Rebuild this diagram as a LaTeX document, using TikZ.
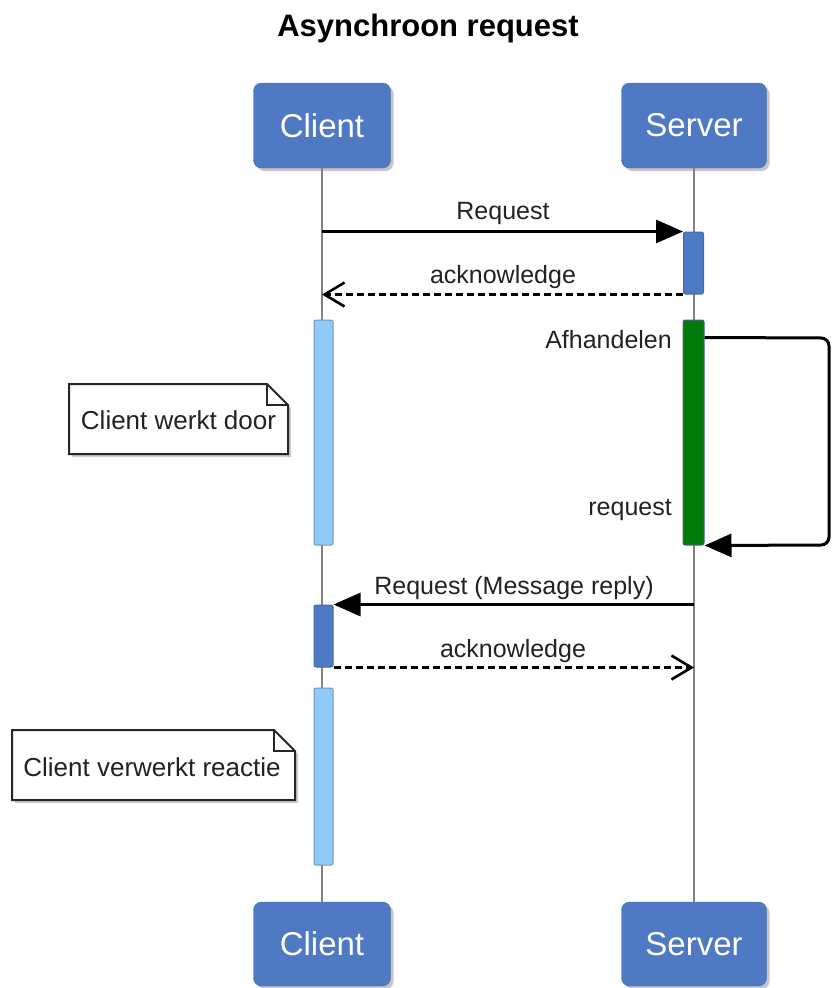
\documentclass[tikz,border=0pt]{standalone}
\usepackage{fontspec}
\setmainfont{Liberation Sans}
\usetikzlibrary{arrows.meta,shadows,calc}
\definecolor{partblue}{RGB}{80,121,196}
\definecolor{partedge}{RGB}{70,106,175}
\definecolor{actlight}{RGB}{144,202,249}
\definecolor{actlightedge}{RGB}{120,150,185}
\definecolor{actgreen}{RGB}{0,122,10}
\definecolor{actgreenedge}{RGB}{80,100,120}
\definecolor{lifegray}{RGB}{130,130,130}
\definecolor{txt}{RGB}{34,34,34}
\begin{document}
\begin{tikzpicture}[x=1pt,y=-1pt,
  part/.style={draw=partedge, fill=partblue, rounded corners=8pt, text=white,
    font=\fontsize{33}{38}\selectfont, inner sep=0pt,
    drop shadow={shadow xshift=3pt, shadow yshift=-3pt, opacity=0.45}},
  lifeline/.style={draw=lifegray, line width=2.6pt},
  actbar/.style={rounded corners=2pt, inner sep=0pt, minimum width=20pt, line width=1pt},
  actblue/.style={actbar, draw=partedge, fill=partblue},
  actlt/.style={actbar, draw=actlightedge, fill=actlight, minimum width=19pt},
  actgr/.style={actbar, draw=actgreenedge, fill=actgreen, minimum width=21pt},
  lbl/.style={text=txt, font=\fontsize{25}{30}\selectfont, inner sep=0pt},
  notetxt/.style={text=txt, font=\fontsize{26}{31}\selectfont, inner sep=0pt},
  noteshape/.style={draw=black!85, fill=white, line width=2pt,
    drop shadow={shadow xshift=3pt, shadow yshift=-3pt, opacity=0.4}},
  msg/.style={line width=3pt, -{Triangle[length=27pt,width=23pt]}},
  reply/.style={line width=3pt, dash pattern=on 7pt off 4pt,
    -{Straight Barb[length=20pt,width=24pt,line width=2.6pt]}}
]
\useasboundingbox (0,0) rectangle (831,988);

% title
\node[text=black, font=\fontsize{31}{36}\selectfont\bfseries, inner sep=0pt] (title) at (428,28) {Asynchroon request};

% participants
\node[part, minimum width=137pt, minimum height=85pt] (ct) at (322,125.5) {Client};
\node[part, minimum width=145pt, minimum height=85pt] (st) at (694,125.5) {Server};
\node[part, minimum width=137pt, minimum height=84pt] (cb) at (322,944) {Client};
\node[part, minimum width=145pt, minimum height=84pt] (sb) at (694,944) {Server};

% lifelines
\draw[lifeline] (ct.south) -- (cb.north);
\draw[lifeline] (st.south) -- (sb.north);

% activation bars
\node[actblue, minimum height=62pt] (sa1) at (693.5,263) {};
\node[actlt, minimum height=225pt] (ca1) at (323.5,432.5) {};
\node[actgr, minimum height=225pt] (sg) at (693.5,432.5) {};
\node[actblue, minimum width=19pt, minimum height=62pt] (ca2) at (323.5,636) {};
\node[actlt, minimum height=177pt] (ca3) at (323.5,776.5) {};

% messages
\draw[msg] (ct.south |- sa1.north west) -- (sa1.north west);
\node[lbl] (l1) at (503,213) {Request};
\draw[reply] (sa1.south west) -- (ct.south |- sa1.south west);
\node[lbl] (l2) at (503,277) {acknowledge};

% self message
\coordinate (loopa) at (829,338);
\coordinate (loopb) at (829,545);
\draw[msg, rounded corners=8pt] ($(sg.north east)+(0,18)$) -- (loopa) -- (loopb) -- (sg.south east);
\node[lbl, anchor=east] (l3) at (672,340) {Afhandelen};
\node[lbl, anchor=east] (l4) at (672,510) {request};

% reply message
\draw[msg] (st.south |- ca2.north east) -- (ca2.north east);
\node[lbl] (l5) at (514,588) {Request (Message reply)};
\draw[reply] (ca2.south east) -- (st.south |- ca2.south east);
\node[lbl] (l6) at (513,651) {acknowledge};

% note 1
\path[noteshape] (69,384) -- (267,384) -- (288,405) -- (288,454) -- (69,454) -- cycle;
\draw[draw=black!85, line width=1.2pt] (267,384) -- (267,405) -- (288,405);
\node[notetxt] (n1) at (178.5,420) {Client werkt door};

% note 2
\path[noteshape] (12,730) -- (274,730) -- (295,751) -- (295,800) -- (12,800) -- cycle;
\draw[draw=black!85, line width=1.2pt] (274,730) -- (274,751) -- (295,751);
\node[notetxt] (n2) at (152,767) {Client verwerkt reactie};
\end{tikzpicture}
\end{document}
